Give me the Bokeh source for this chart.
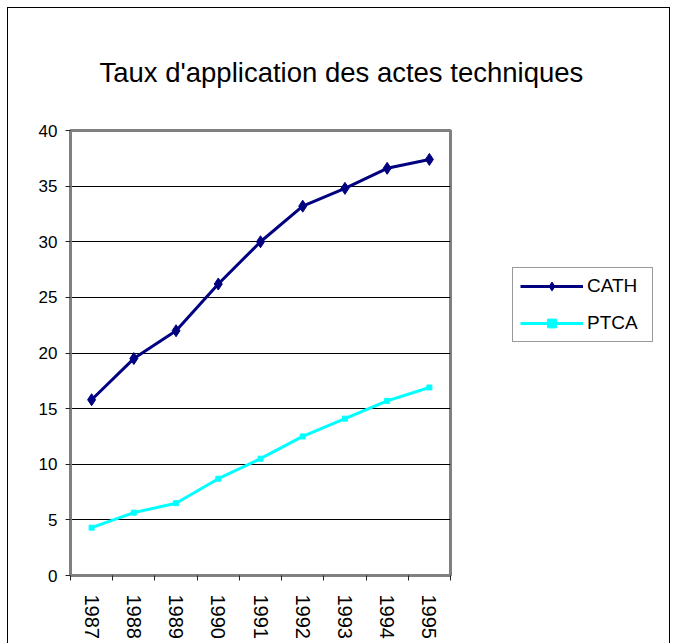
import math
from bokeh.plotting import figure
from bokeh.models import (Range1d, FixedTicker, Legend, LegendItem, Title)
from bokeh.embed import file_html
from bokeh.resources import INLINE

# ---- data ----
years = [1987, 1988, 1989, 1990, 1991, 1992, 1993, 1994, 1995]
cath = [15.8, 19.5, 22.0, 26.2, 30.0, 33.2, 34.8, 36.6, 37.4]
ptca = [4.3, 5.65, 6.5, 8.7, 10.5, 12.5, 14.1, 15.7, 16.9]
y_ticks = [0, 5, 10, 15, 20, 25, 30, 35, 40]
title_text = "Taux d'application des actes techniques"
series_names = ["CATH", "PTCA"]

FONT = "Liberation Sans"

p = figure(width=663, height=636, frame_width=380, frame_height=445,
           output_backend="svg", toolbar_location=None,
           x_range=Range1d(years[0] - 0.5, years[-1] + 0.5),
           y_range=Range1d(y_ticks[0], y_ticks[-1]),
           min_border_left=62, min_border_right=221,
           min_border_top=122, min_border_bottom=69)

p.styles = {"margin-left": "7px", "margin-top": "7px",
            "width": "663px", "height": "636px", "overflow": "hidden",
            "border-left": "1px solid #000", "border-top": "1px solid #000",
            "border-right": "1px solid #000"}
p.background_fill_color = "white"
p.border_fill_color = "white"
p.outline_line_color = "#808080"
p.outline_line_width = 3

# title, lifted away from the plot area by its standoff
p.title.text = ""
p.title.standoff = 0
p.add_layout(Title(text=title_text, text_font=FONT, text_font_size="27.5px",
                   text_font_style="normal", text_color="black",
                   align="left", offset=29, standoff=86,
                   vertical_align="bottom"), "above")

# axes
p.yaxis.ticker = FixedTicker(ticks=y_ticks)
p.xaxis.ticker = FixedTicker(ticks=years,
                             minor_ticks=[y - 0.5 for y in years] + [years[-1] + 0.5])
for ax in (p.xaxis[0], p.yaxis[0]):
    ax.axis_line_color = "#808080"
    ax.axis_line_width = 3
    ax.major_label_text_font = FONT
    ax.major_label_text_color = "black"
    ax.major_tick_line_color = "#222222"
    ax.minor_tick_line_color = "#222222"

p.yaxis.major_tick_out = 5
p.yaxis.major_tick_in = 0
p.yaxis.minor_tick_line_color = None
p.yaxis.major_label_text_font_size = "17px"
p.yaxis.major_label_standoff = 8

p.xaxis.major_tick_line_color = None
p.xaxis.minor_tick_out = 5
p.xaxis.minor_tick_in = 0
p.xaxis.major_label_text_font_size = "20px"
p.xaxis.major_label_orientation = -math.pi / 2
p.xaxis.major_label_standoff = 13
p.xaxis.major_label_overrides = {y: str(y) for y in years}

p.xgrid.grid_line_color = None
p.ygrid.ticker = FixedTicker(ticks=y_ticks)
p.ygrid.grid_line_color = "black"
p.ygrid.grid_line_width = 1
p.ygrid.grid_line_alpha = 1

# series
l1 = p.line(years, cath, line_color="#000080", line_width=3)
m1 = p.scatter(years, cath, marker="diamond", size=12, fill_color="#000080",
               line_color="#000080")
l2 = p.line(years, ptca, line_color="#00FFFF", line_width=3)
m2 = p.scatter(years, ptca, marker="square", size=5, fill_color="#00FFFF",
               line_color="#00FFFF")

legend = Legend(items=[LegendItem(label=series_names[0], renderers=[l1, m1]),
                       LegendItem(label=series_names[1], renderers=[l2, m2])],
                location=(62, 233), orientation="vertical")
legend.border_line_color = "#333333"
legend.border_line_width = 1
legend.background_fill_color = "white"
legend.background_fill_alpha = 1
legend.label_text_font = FONT
legend.label_text_font_size = "19px"
legend.label_text_color = "black"
legend.glyph_width = 63
legend.glyph_height = 22
legend.label_height = 22
legend.label_width = 58
legend.label_standoff = 4
legend.spacing = 15
legend.padding = 7
legend.margin = 0
p.add_layout(legend, "right")

open("out.html", "w").write(file_html(p, INLINE))
